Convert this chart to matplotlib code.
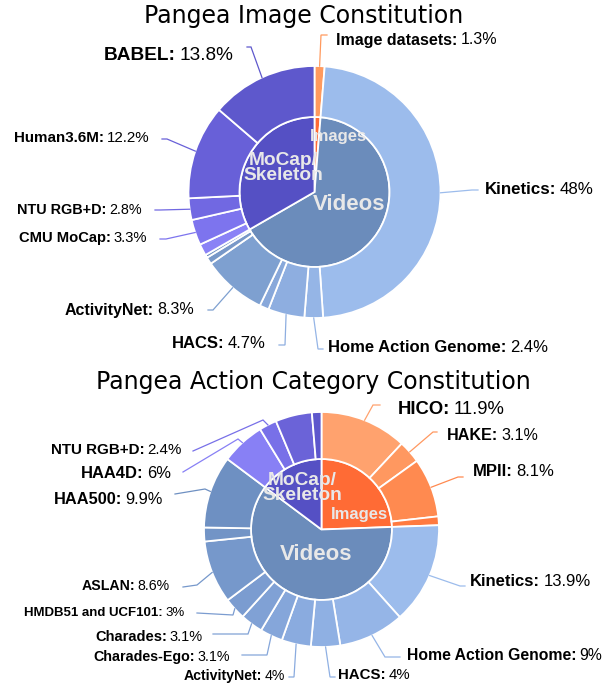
import matplotlib
matplotlib.use('Agg')
import matplotlib.pyplot as plt
import numpy as np

W, H = 609, 690

# ---- Pangea Image Constitution (clockwise from 12 o'clock) ----
img_names = ['Image datasets']
img_vals = [1.3]
vid_names = ['Kinetics', 'Home Action Genome', 'HACS', '', 'ActivityNet', '', '']
vid_vals = [48, 2.4, 4.7, 1.2, 8.3, 0.9, 0.4]
mocap_names = ['', 'CMU MoCap', 'NTU RGB+D', 'Human3.6M', 'BABEL']
mocap_vals = [1.5, 3.3, 2.8, 12.2, 13.8]

# ---- Pangea Action Category Constitution ----
act_img_names = ['HICO', 'HAKE', 'MPII', '']
act_img_vals = [11.9, 3.1, 8.1, 1.2]
act_vid_names = ['Kinetics', 'Home Action Genome', 'HACS', 'ActivityNet', 'Charades-Ego',
                 'Charades', 'HMDB51 and UCF101', 'ASLAN', '', 'HAA500']
act_vid_vals = [13.9, 9, 4, 4, 3.1, 3.1, 3, 8.6, 1.9, 9.9]
act_mocap_names = ['HAA4D', 'NTU RGB+D', '', '']
act_mocap_vals = [6, 2.4, 5.0, 1.3]

group_names = ['Images', 'Videos', 'MoCap/\nSkeleton']

# colores
inner_cols = ['#ff6b35', '#6b8cbb', '#5550c4']
top_outer_cols = ['#ff9a5e',
                  '#9cbcec', '#95b5e6', '#8eaee0', '#88a8da', '#7ea0d0', '#7898c8', '#7292c2',
                  '#8a82f6', '#7d74ee', '#7168e2', '#6860d8', '#5e58cc']
bot_outer_cols = ['#ffa26e', '#ff9860', '#ff8a50', '#ff7a40',
                  '#9cbcec', '#95b5e7', '#8fb0e3', '#8aabdf', '#85a6da', '#80a1d5', '#7b9cd0',
                  '#7698cb', '#7294c6', '#6e90c2',
                  '#8880f5', '#7870e8', '#6b63d8', '#5d57cc']

# posiciones de etiquetas (pixeles, y hacia abajo)
top_layout = {
    'Image datasets': dict(line=[(321, 35), (327, 35)], text=(336, 40), ha='left', size=11.5),
    'Kinetics': dict(line=[(472, 190), (478, 190)], text=(485, 189), ha='left', size=12.2),
    'Home Action Genome': dict(line=[(318, 349), (323, 349)], text=(328, 347), ha='left', size=12),
    'HACS': dict(line=[(285, 345), (279, 345)], text=(266, 344), ha='right', size=12),
    'ActivityNet': dict(line=[(213, 310), (208, 310)], text=(194, 310), ha='right', size=11.5),
    'CMU MoCap': dict(line=[(166, 239), (160, 239)], text=(147, 238), ha='right', size=10.6),
    'NTU RGB+D': dict(line=[(160, 210), (155, 210)], text=(142, 210), ha='right', size=10.4),
    'Human3.6M': dict(line=[(167, 139), (162, 139)], text=(150, 138), ha='right', size=10.9),
    'BABEL': dict(line=[(251, 47), (247, 47)], text=(233, 55), ha='right', size=13.7),
}
bot_layout = {
    'HICO': dict(line=[(373, 405), (380, 405)], text=(398, 409), ha='left', size=13.3),
    'HAKE': dict(line=[(433, 432), (437, 432)], text=(447, 435), ha='left', size=11.6),
    'MPII': dict(line=[(458, 477), (463, 477)], text=(473, 472), ha='left', size=12),
    'Kinetics': dict(line=[(460, 586), (465, 586)], text=(470, 581), ha='left', size=12),
    'Home Action Genome': dict(line=[(385, 657), (400, 657)], text=(407, 655), ha='left', size=11.3),
    'HACS': dict(line=[(330, 677), (335, 677)], text=(338, 675), ha='left', size=10.8),
    'ActivityNet': dict(line=[(294, 677), (289, 677)], text=(285, 676), ha='right', size=10.2),
    'Charades-Ego': dict(line=[(267, 655), (242, 655)], text=(230, 657), ha='right', size=10.3),
    'Charades': dict(line=[(248, 634), (213, 634)], text=(203, 637), ha='right', size=10.5),
    'HMDB51 and UCF101': dict(line=[(233, 615), (197, 613)], text=(185, 613), ha='right', size=9.5),
    'ASLAN': dict(line=[(197, 585), (183, 587)], text=(170, 586), ha='right', size=10.2),
    'HAA500': dict(line=[(205, 489), (175, 494)], text=(163, 499), ha='right', size=11.8),
    'HAA4D': dict(line=[(238, 439), (183, 472)], text=(171, 473), ha='right', size=11.9),
    'NTU RGB+D': dict(line=[(263, 420), (193, 451)], text=(182, 450), ha='right', size=10.9),
}

FONT = 'Liberation Sans'

fig = plt.figure(figsize=(W / 100, H / 100), dpi=100)
ax = fig.add_axes([0, 0, 1, 1])


def P(x, y):
    return x, H - y


def etiqueta(name, val, lay, color, start):
    pts = [start] + [P(*p) for p in lay['line']]
    xs, ys = zip(*pts)
    ax.plot(xs, ys, color=color, lw=0.9, solid_joinstyle='miter')
    tx, ty = P(*lay['text'])
    fs = lay['size']
    pct = f'{val:g}%'
    gap = 0.2 * fs
    if lay['ha'] == 'left':
        t = ax.text(tx, ty, name + ':', ha='left', va='center', fontsize=fs,
                    fontweight='bold', family=FONT)
        ax.annotate(pct, xy=(1, 0), xycoords=t, xytext=(gap, 0),
                    textcoords='offset points', ha='left', va='bottom',
                    fontsize=fs, family=FONT)
    else:
        t = ax.text(tx, ty, pct, ha='right', va='center', fontsize=fs, family=FONT)
        ax.annotate(name + ':', xy=(0, 0), xycoords=t, xytext=(-gap, 0),
                    textcoords='offset points', ha='right', va='bottom',
                    fontsize=fs, fontweight='bold', family=FONT)


def sunburst(cx, cy, r_in, r_out, groups, outer_cols, layout):
    c = P(cx, cy)
    inner = [np.sum(v) for _, v in groups]
    names = [n for ns, _ in groups for n in ns]
    outer = [v for _, vs in groups for v in vs]
    ax.pie(inner, radius=r_in, center=c, startangle=90, counterclock=False,
           colors=inner_cols, wedgeprops=dict(edgecolor='white', linewidth=1.3))
    wedges, _ = ax.pie(outer, radius=r_out, center=c, startangle=90, counterclock=False,
                       colors=outer_cols,
                       wedgeprops=dict(width=r_out - r_in, edgecolor='white', linewidth=1.3))
    for w, n, v, col in zip(wedges, names, outer, outer_cols):
        if n not in layout:
            continue
        th = np.deg2rad((w.theta1 + w.theta2) / 2)
        start = (c[0] + r_out * np.cos(th), c[1] + r_out * np.sin(th))
        etiqueta(n, v, layout[n], col, start)


sunburst(314.5, 192, 75, 126,
         [(img_names, img_vals), (vid_names, vid_vals), (mocap_names, mocap_vals)],
         top_outer_cols, top_layout)
sunburst(321.5, 529.5, 70.5, 117.5,
         [(act_img_names, act_img_vals), (act_vid_names, act_vid_vals),
          (act_mocap_names, act_mocap_vals)],
         bot_outer_cols, bot_layout)

# textos del centro
centro = '#e8e8e8'
for txt, (x, y), fs in [('Images', (338, 137), 12), (group_names[2], (283, 168), 13.8),
                        ('Videos', (349, 204), 16),
                        ('Images', (359, 515), 12), (group_names[2], (302, 488), 13.8),
                        ('Videos', (316.5, 554), 16)]:
    ax.text(*P(x, y), txt, ha='center', va='center', fontsize=fs, fontweight='bold',
            color=centro, family=FONT, linespacing=0.9)

# titulos
ax.text(*P(304, 16), 'Pangea Image Constitution', ha='center', va='center',
        fontsize=17, family='DejaVu Sans')
ax.text(*P(313, 382), 'Pangea Action Category Constitution', ha='center', va='center',
        fontsize=17, family='DejaVu Sans')

ax.set_xlim(0, W)
ax.set_ylim(0, H)
ax.set_aspect('equal')
ax.axis('off')

fig.savefig('out.png', dpi=100, facecolor='white')
